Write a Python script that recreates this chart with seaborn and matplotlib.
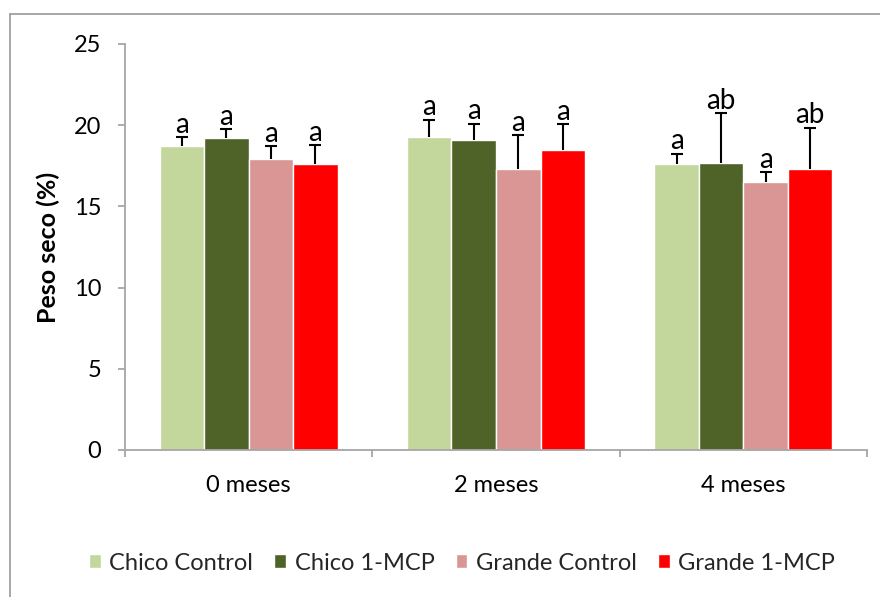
import matplotlib
matplotlib.use("Agg")
import matplotlib.pyplot as plt
from matplotlib.lines import Line2D
import seaborn as sns
import pandas as pd
import numpy as np

# Dry weight (%) by storage time and treatment
meses = ["0 meses", "2 meses", "4 meses"]
tratamientos = ["Chico Control", "Chico 1-MCP", "Grande Control", "Grande 1-MCP"]
peso_chico_control = [18.7, 19.25, 17.6]
peso_chico_mcp = [19.2, 19.1, 17.7]
peso_grande_control = [17.9, 17.3, 16.5]
peso_grande_mcp = [17.6, 18.45, 17.3]
err_chico_control = [0.55, 1.1, 0.65]
err_chico_mcp = [0.55, 1.0, 3.05]
err_grande_control = [0.8, 2.1, 0.6]
err_grande_mcp = [1.15, 1.6, 2.55]
letras_chico_control = ["a", "a", "a"]
letras_chico_mcp = ["a", "a", "ab"]
letras_grande_control = ["a", "a", "a"]
letras_grande_mcp = ["a", "a", "ab"]

colores = ["#C3D69B", "#4F6228", "#D99694", "#FF0000"]

valores = [peso_chico_control, peso_chico_mcp, peso_grande_control, peso_grande_mcp]
errores = [err_chico_control, err_chico_mcp, err_grande_control, err_grande_mcp]
letras = [letras_chico_control, letras_chico_mcp, letras_grande_control, letras_grande_mcp]

df = pd.DataFrame(
    [(m, t, v) for t, serie in zip(tratamientos, valores) for m, v in zip(meses, serie)],
    columns=["mes", "trat", "peso"],
)

sns.set_theme(style="white")
plt.rcParams["font.family"] = ["Lato", "DejaVu Sans"]

fig = plt.figure(figsize=(8.8, 5.97), dpi=100)
ax = fig.add_axes([125 / 880, 1 - 450 / 597, (867 - 125) / 880, (450 - 44) / 597])

sns.barplot(
    data=df, x="mes", y="peso", hue="trat", hue_order=tratamientos, order=meses,
    palette=colores, width=0.72, errorbar=None, edgecolor="white", linewidth=1.0,
    saturation=1, ax=ax,
)

for cont, errs, labs in zip(ax.containers, errores, letras):
    xs = [p.get_x() + p.get_width() / 2 for p in cont.patches]
    hs = [p.get_height() for p in cont.patches]
    eb = ax.errorbar(xs, hs, yerr=[np.zeros(len(errs)), errs], fmt="none",
                     ecolor="black", elinewidth=1.5, capsize=4, capthick=1.5, zorder=3)
    # upward-only whiskers: hide the cap sitting on the bar top
    eb[1][0].set_visible(False)
    for x, h, e, lab in zip(xs, hs, errs, labs):
        ax.annotate(lab, (x, h + e), xytext=(0, 3), textcoords="offset points",
                    ha="center", va="baseline", fontsize=20, color="black")

ax.set_ylim(0, 25)
ax.set_xlim(-0.5, 2.5)
ax.set_yticks([0, 5, 10, 15, 20, 25])
ax.set_xlabel("")
ax.set_ylabel("Peso seco (%)", fontsize=18, fontweight="bold", color="black")
ax.yaxis.set_label_coords(-65 / 742, (450 - 247) / 406)

for s in ["top", "right"]:
    ax.spines[s].set_visible(False)
for s in ["left", "bottom"]:
    ax.spines[s].set_color("#A6A6A6")
    ax.spines[s].set_linewidth(1.3)

ax.tick_params(axis="y", which="major", length=5, width=1.3, color="#A6A6A6",
               labelsize=17, labelcolor="black", pad=12, left=True)
ax.tick_params(axis="x", which="major", length=0, labelsize=17, labelcolor="black", pad=18)
ax.set_xticks([-0.5, 0.5, 1.5, 2.5], minor=True)
ax.tick_params(axis="x", which="minor", length=5, width=1.3, color="#A6A6A6", bottom=True)

ax.get_legend().remove()
handles, labels = ax.get_legend_handles_labels()
fig.legend(handles, labels, loc="center", bbox_to_anchor=(0.525, 1 - 563 / 597), ncol=4,
           frameon=False, fontsize=17, handlelength=0.5, handleheight=0.5,
           handletextpad=0.35, columnspacing=0.9)

# outer frame (top and left edges)
fig.add_artist(Line2D([10 / 880, 1.0], [1 - 14 / 597] * 2, transform=fig.transFigure,
                      color="#A0A0A0", linewidth=1.3))
fig.add_artist(Line2D([10 / 880] * 2, [0.0, 1 - 14 / 597], transform=fig.transFigure,
                      color="#A0A0A0", linewidth=1.3))

fig.savefig("out.png", dpi=100, facecolor="white")
